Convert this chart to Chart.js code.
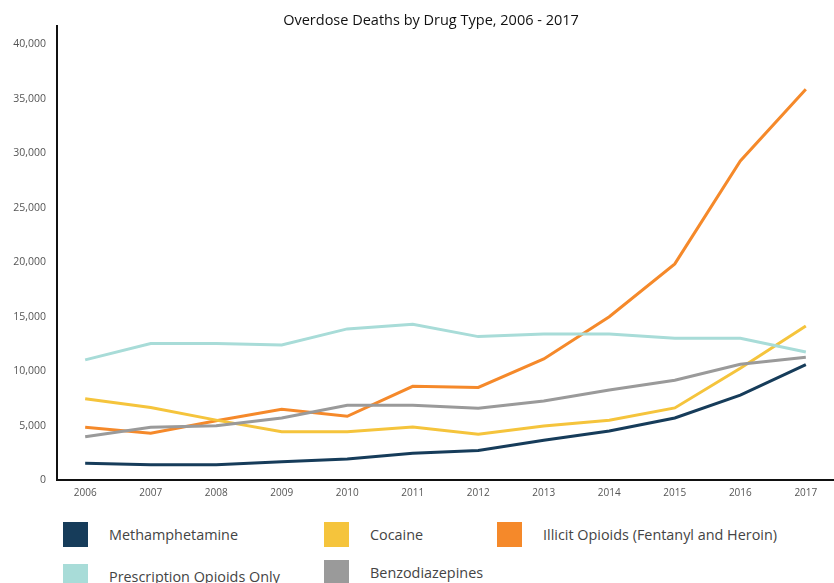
<!DOCTYPE html>
<html>
<head>
<meta charset="utf-8">
<script src="https://cdn.jsdelivr.net/npm/chart.js"></script>
<style>
  body { margin: 0; background: #fff; font-family: "Open Sans", sans-serif; }
  #wrap { position: relative; width: 834px; height: 583px; overflow: hidden; }
  #chart { position: absolute; left: 0; top: 0; }
  #title { position: absolute; left: 0; width: 862px; top: 10px; text-align: center; font-size: 14.5px; color: #111; }
  .item { position: absolute; display: flex; align-items: center; font-size: 14.4px; color: #444; white-space: nowrap; }
  .item .box { width: 25px; height: 25px; margin-right: 21px; flex: none; }
</style>
</head>
<body>
<div id="wrap">
  <canvas id="chart" width="834" height="505"></canvas>
  <div id="title">Overdose Deaths by Drug Type, 2006 - 2017</div>
  <div id="legend"></div>
</div>
<script>
// --- PODATKI ---
const years = [2006, 2007, 2008, 2009, 2010, 2011, 2012, 2013, 2014, 2015, 2016, 2017];
const methamphetamine = [1530, 1410, 1410, 1680, 1930, 2450, 2700, 3650, 4500, 5700, 7800, 10600];
const cocaine = [7470, 6650, 5500, 4440, 4440, 4870, 4200, 4960, 5480, 6620, 10260, 14150];
const illicitOpioids = [4840, 4290, 5450, 6500, 5850, 8600, 8500, 11120, 15000, 19850, 29300, 35900];
const prescriptionOpioids = [11030, 12530, 12530, 12410, 13880, 14310, 13170, 13420, 13420, 13020, 13020, 11760];
const benzodiazepines = [3980, 4840, 4990, 5700, 6870, 6870, 6590, 7260, 8270, 9160, 10630, 11280];
const yTicks = [0, 5000, 10000, 15000, 20000, 25000, 30000, 35000, 40000];

const seriesNames = ['Methamphetamine', 'Cocaine', 'Illicit Opioids (Fentanyl and Heroin)', 'Prescription Opioids Only', 'Benzodiazepines'];
const seriesColors = ['#163c5a', '#f5c43c', '#f5892a', '#a8dcd8', '#9a9a9a'];
const seriesValues = [methamphetamine, cocaine, illicitOpioids, prescriptionOpioids, benzodiazepines];

// vrstni red risanja (zadnji je zgoraj)
const drawOrder = [3, 4, 1, 2, 0];

const datasets = drawOrder.map(i => ({
    label: seriesNames[i],
    data: years.map((y, k) => ({ x: y, y: seriesValues[i][k] })),
    borderColor: seriesColors[i],
    backgroundColor: seriesColors[i],
    borderWidth: 3,
    pointRadius: 0,
    tension: 0,
    fill: false
}));

new Chart(document.getElementById('chart'), {
    type: 'line',
    data: { datasets },
    options: {
        responsive: false,
        animation: false,
        layout: { padding: { left: 0, right: 0, top: 26, bottom: 0 } },
        plugins: {
            legend: { display: false },
            tooltip: { enabled: false }
        },
        scales: {
            x: {
                type: 'linear',
                min: 2005.57,
                max: 2017.43,
                afterBuildTicks: s => { s.ticks = years.map(v => ({ value: v })); },
                afterFit: s => { s.height = 25; },
                grid: { display: false, drawTicks: false },
                border: { display: true, color: '#111', width: 2 },
                ticks: {
                    padding: 7,
                    color: '#555',
                    font: { family: 'Open Sans', size: 10 },
                    callback: v => String(v)
                }
            },
            y: {
                min: 0,
                max: 41700,
                afterBuildTicks: s => { s.ticks = yTicks.map(v => ({ value: v })); },
                afterFit: s => { s.width = 57; },
                grid: { display: false, drawTicks: false },
                border: { display: true, color: '#111', width: 2 },
                ticks: {
                    padding: 11,
                    color: '#555',
                    font: { family: 'Open Sans', size: 10.5 },
                    callback: v => v.toLocaleString('en-US')
                }
            }
        }
    }
});

// --- LEGENDA ---
const legendSpots = [
    { left: 63, top: 522 },
    { left: 324, top: 522 },
    { left: 497, top: 522 },
    { left: 63, top: 564 },
    { left: 324, top: 560 }
];
const legend = document.getElementById('legend');
seriesNames.forEach((name, i) => {
    const el = document.createElement('div');
    el.className = 'item';
    el.style.left = legendSpots[i].left + 'px';
    el.style.top = legendSpots[i].top + 'px';
    el.innerHTML = `<span class="box" style="background:${seriesColors[i]}"></span><span>${name}</span>`;
    legend.appendChild(el);
});
</script>
</body>
</html>
